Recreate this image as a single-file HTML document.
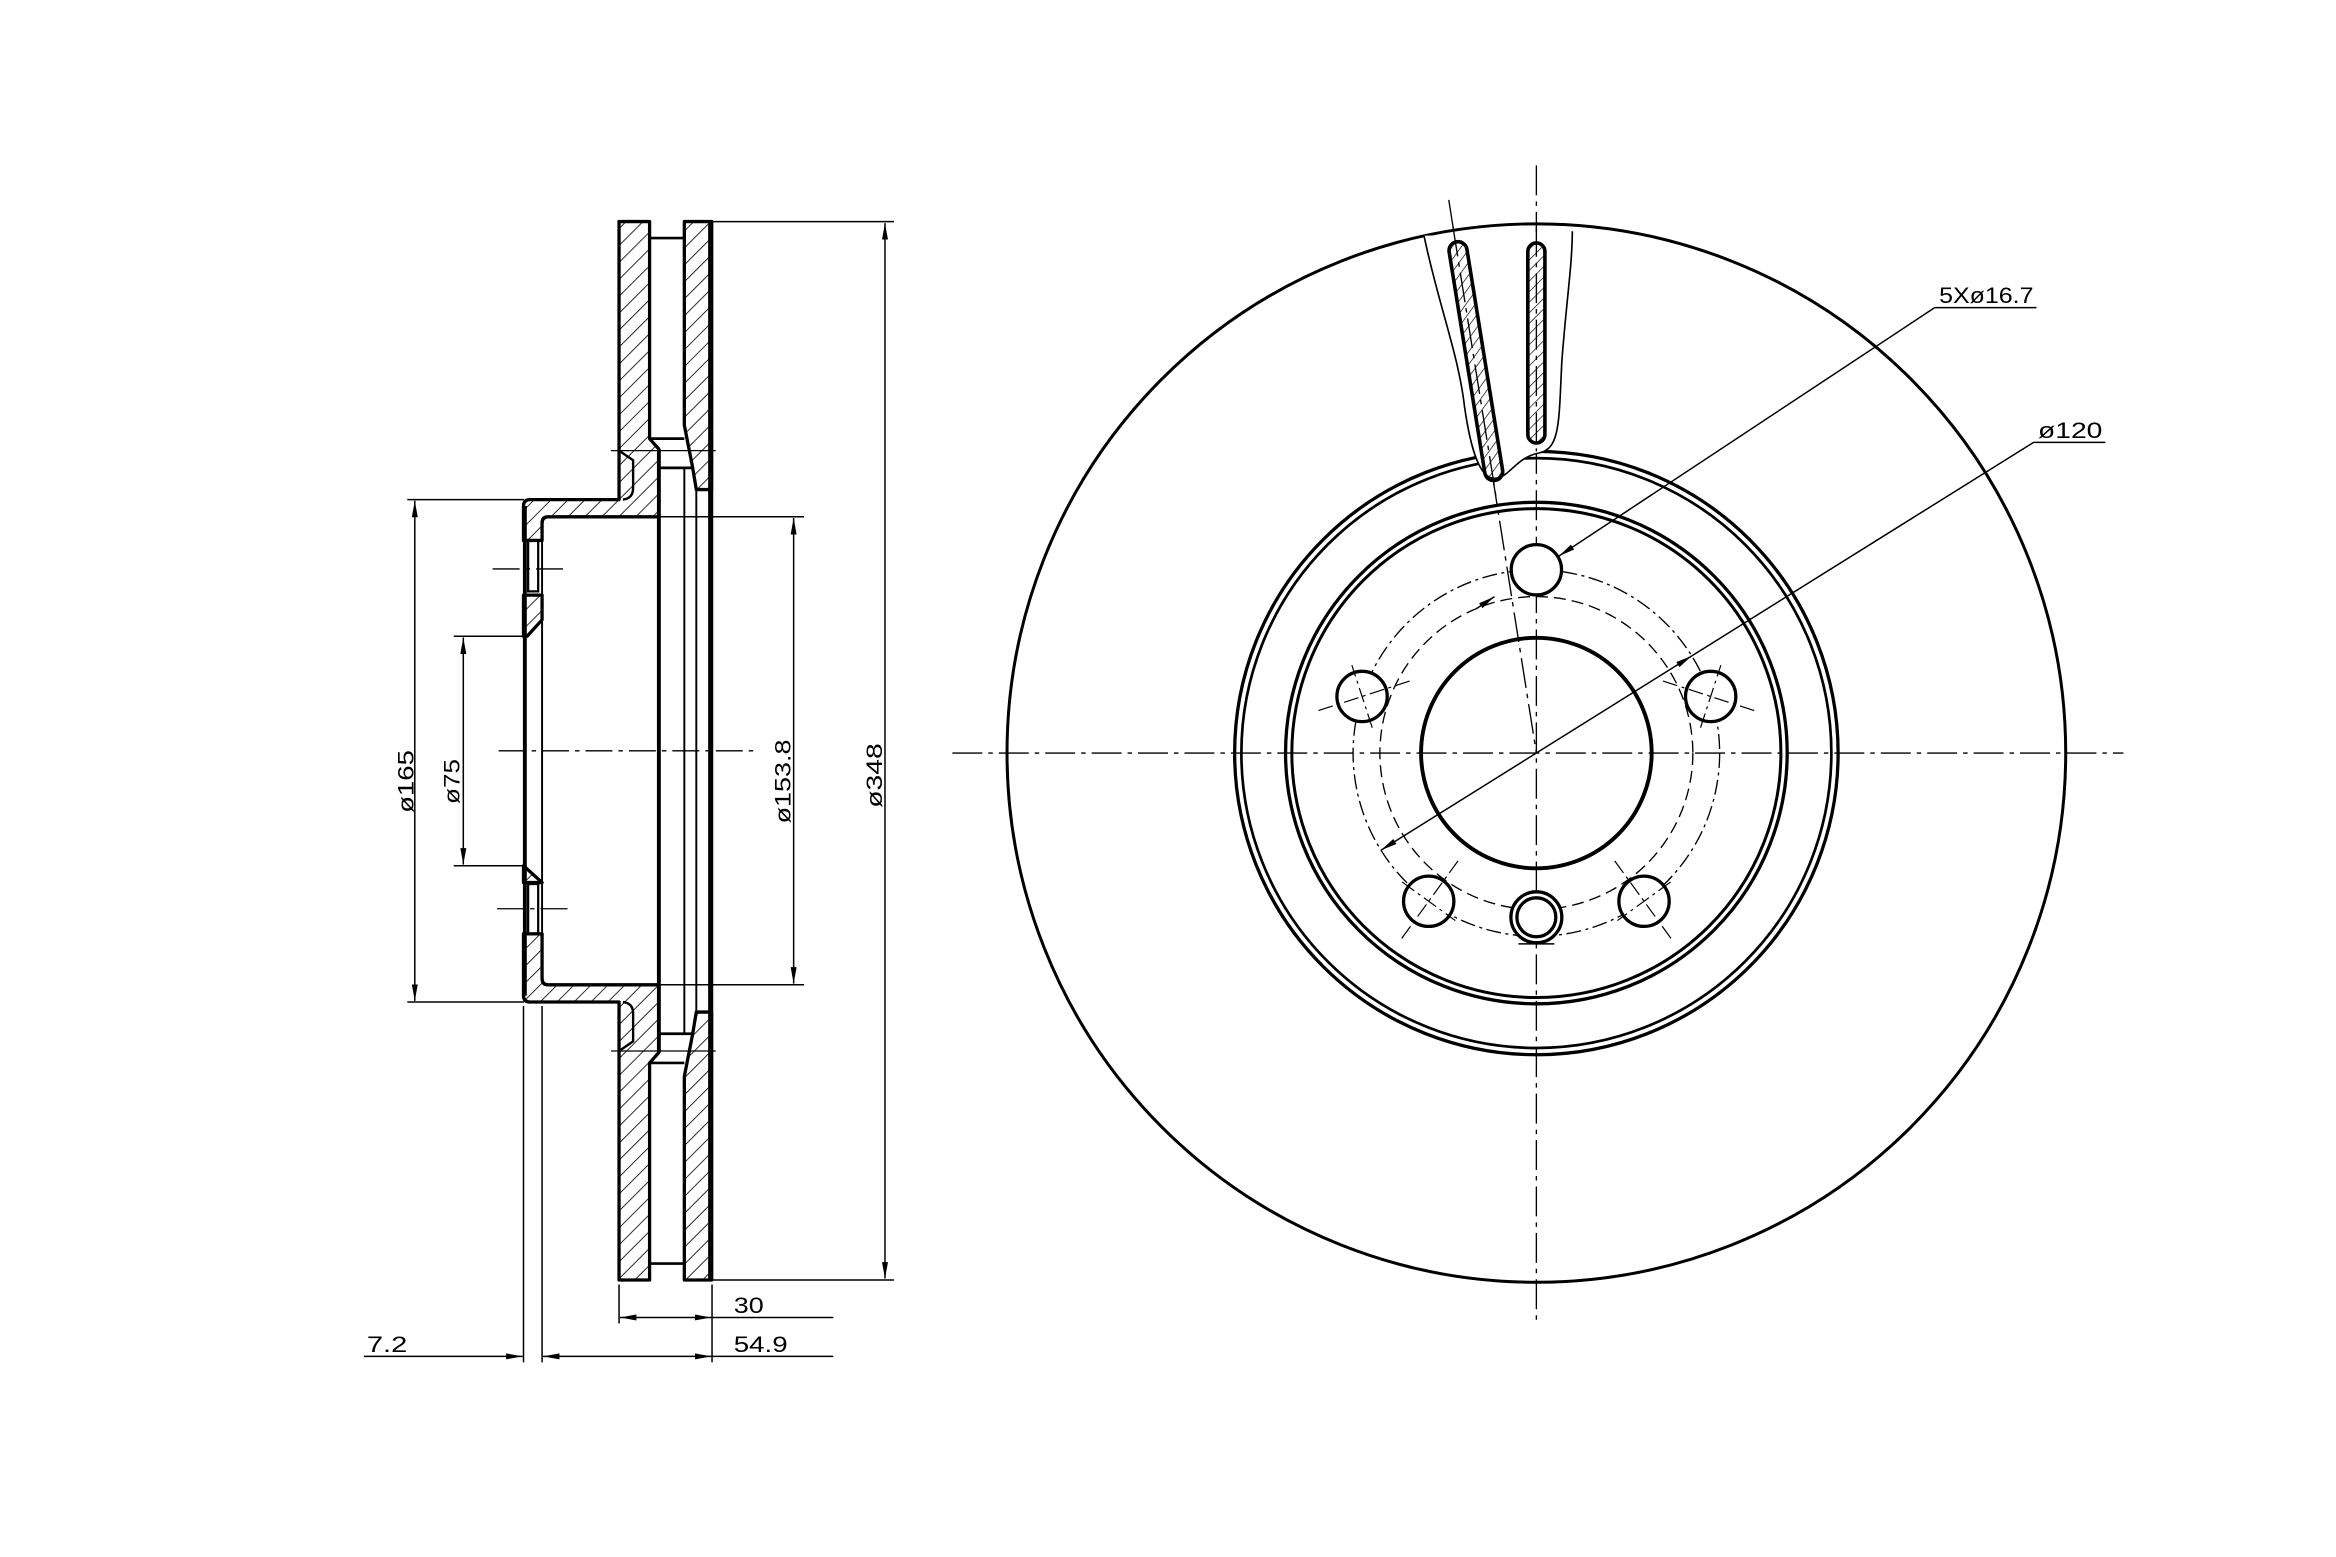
<!DOCTYPE html>
<html><head><meta charset="utf-8"><style>
html,body{margin:0;padding:0;background:#fff;}
svg{display:block;}
text{font-family:"Liberation Sans",sans-serif;fill:#000;}
</style></head><body>
<svg width="2336" height="1557" viewBox="0 0 1560 1040" preserveAspectRatio="none" xmlns="http://www.w3.org/2000/svg">
<defs>
<marker id="a" viewBox="0 0 11 4" refX="11" refY="2" markerWidth="11" markerHeight="4" markerUnits="userSpaceOnUse" orient="auto-start-reverse"><path d="M0,0 L11,2 L0,4 z" fill="#000"/></marker>
<pattern id="h" width="8" height="8" patternUnits="userSpaceOnUse" patternTransform="rotate(45)"><line x1="0" y1="0" x2="0" y2="8" stroke="#000" stroke-width="1.1"/></pattern>
<pattern id="hs" width="5" height="5" patternUnits="userSpaceOnUse" patternTransform="rotate(45)"><line x1="0" y1="0" x2="0" y2="5" stroke="#000" stroke-width="0.9"/></pattern>
</defs>
<rect width="1560" height="1040" fill="#fff"/>

<!-- ===== SECTION VIEW ===== -->
<g stroke="#000" fill="url(#h)" stroke-width="2.2" stroke-linejoin="round">
<path d="M413.4,148 L433.8,148 L433.8,293 L440,300 L440,345.2 L366,345.2 Q362,345.2 362,349.5 L362,361 L349.6,361 L349.6,338 Q349.6,333.7 354,333.7 L413.4,333.7 Z"/>
<path d="M349.6,397.5 L362,397.5 L362,414 L352,425 L349.6,425 Z"/>
<path d="M457,148 L475.2,148 L475.2,327 L465,327 L462.5,312 L457,284 Z"/>
<path d="M413.4,855 L433.8,855 L433.8,710 L440,703 L440,657.8 L366,657.8 Q362,657.8 362,653.5 L362,623.8 L349.6,623.8 L349.6,665 Q349.6,669.3 354,669.3 L413.4,669.3 Z"/>
<path d="M349.6,578.3 L362,589.5 L349.6,589.5 Z"/>
<path d="M457,855 L475.2,855 L475.2,676 L465,676 L462.5,691 L457,719 Z"/>
</g>
<g stroke="#000" fill="none">
<line x1="440" y1="300" x2="440" y2="703" stroke-width="2.6"/>
<line x1="457" y1="312" x2="457" y2="691" stroke-width="1.3"/>
<line x1="465" y1="327" x2="465" y2="676" stroke-width="1.3"/>
<line x1="474.6" y1="148" x2="474.6" y2="855" stroke-width="3.4"/>
<line x1="350.5" y1="338" x2="350.5" y2="665" stroke-width="2.6"/>
<line x1="362" y1="349" x2="362" y2="654" stroke-width="1.3"/>
<line x1="433.8" y1="159" x2="457" y2="159" stroke-width="1.8"/>
<line x1="433.8" y1="844" x2="457" y2="844" stroke-width="1.8"/>
<line x1="433.8" y1="293" x2="457" y2="293" stroke-width="1.8"/>
<line x1="433.8" y1="710" x2="457" y2="710" stroke-width="1.8"/>
<line x1="440" y1="312.5" x2="462.5" y2="312.5" stroke-width="1.8"/>
<line x1="440" y1="690.5" x2="462.5" y2="690.5" stroke-width="1.8"/>
<path d="M413.4,301 L422.8,307.4 L422.8,326 Q422.8,333 416,333.7" stroke-width="1.6"/>
<path d="M413.4,702 L422.8,695.6 L422.8,677 Q422.8,670 416,669.3" stroke-width="1.6"/>
<line x1="408" y1="301" x2="478" y2="301" stroke-width="0.8"/>
<line x1="408" y1="702" x2="478" y2="702" stroke-width="0.8"/>
<rect x="352.7" y="361" width="6.7" height="34" stroke-width="1.5"/>
<rect x="352.7" y="590.5" width="6.7" height="33" stroke-width="1.5"/>
<g stroke-width="0.9" stroke-dasharray="18 4 3 4">
<line x1="333" y1="501.5" x2="505" y2="501.5"/>
<line x1="329" y1="380" x2="379" y2="380"/>
<line x1="332" y1="607" x2="383" y2="607"/>
</g>
<g stroke-width="1">
<line x1="475" y1="148" x2="597" y2="148"/>
<line x1="475" y1="855" x2="597" y2="855"/>
<line x1="591" y1="149" x2="591" y2="854" marker-start="url(#a)" marker-end="url(#a)"/>
<line x1="440" y1="345.2" x2="537" y2="345.2"/>
<line x1="440" y1="657.8" x2="537" y2="657.8"/>
<line x1="530" y1="346" x2="530" y2="657" marker-start="url(#a)" marker-end="url(#a)"/>
<line x1="272" y1="333.7" x2="350" y2="333.7"/>
<line x1="272" y1="669.3" x2="350" y2="669.3"/>
<line x1="277" y1="334.5" x2="277" y2="668.5" marker-start="url(#a)" marker-end="url(#a)"/>
<line x1="303" y1="425" x2="351" y2="425"/>
<line x1="303" y1="578.3" x2="351" y2="578.3"/>
<line x1="309.4" y1="425.8" x2="309.4" y2="577.5" marker-start="url(#a)" marker-end="url(#a)"/>
<line x1="413.4" y1="858" x2="413.4" y2="884"/>
<line x1="475.5" y1="858" x2="475.5" y2="910"/>
<line x1="349.6" y1="672" x2="349.6" y2="910"/>
<line x1="362" y1="672" x2="362" y2="910"/>
<line x1="414" y1="880" x2="475" y2="880" marker-start="url(#a)" marker-end="url(#a)"/>
<line x1="475" y1="880" x2="556.5" y2="880"/>
<line x1="362.6" y1="906" x2="475" y2="906" marker-start="url(#a)" marker-end="url(#a)"/>
<line x1="475" y1="906" x2="556.5" y2="906"/>
<line x1="243" y1="906" x2="349" y2="906" marker-end="url(#a)"/>
</g>
</g>
<g font-size="15">
<text x="490" y="877" textLength="20" lengthAdjust="spacingAndGlyphs">30</text>
<text x="490" y="903" textLength="36" lengthAdjust="spacingAndGlyphs">54.9</text>
<text x="245" y="903" textLength="27" lengthAdjust="spacingAndGlyphs">7.2</text>
<text transform="translate(589,518) rotate(-90)" text-anchor="middle" textLength="43" lengthAdjust="spacingAndGlyphs">ø348</text>
<text transform="translate(528,522) rotate(-90)" text-anchor="middle" textLength="56" lengthAdjust="spacingAndGlyphs">ø153.8</text>
<text transform="translate(276,522) rotate(-90)" text-anchor="middle" textLength="42" lengthAdjust="spacingAndGlyphs">ø165</text>
<text transform="translate(307,522) rotate(-90)" text-anchor="middle" textLength="30" lengthAdjust="spacingAndGlyphs">ø75</text>
</g>

<!-- ===== FRONT VIEW ===== -->
<g transform="translate(-2,1.5)">
<g stroke="#000" fill="none">
<g stroke-width="0.9" stroke-dasharray="20 4 3 4">
<line x1="638" y1="501.5" x2="1420" y2="501.5"/>
<line x1="1028" y1="109" x2="1028" y2="880"/>
<line x1="969.5" y1="132" x2="1028" y2="501.5"/>
</g>
<circle cx="1028" cy="501.5" r="353.5" stroke-width="2"/>
<circle cx="1028" cy="501.5" r="201.5" stroke-width="2.2"/>
<circle cx="1028" cy="501.5" r="197" stroke-width="1.8"/>
<circle cx="1028" cy="501.5" r="167.5" stroke-width="2.2"/>
<circle cx="1028" cy="501.5" r="163.3" stroke-width="2"/>
<circle cx="1028" cy="501.5" r="77" stroke-width="2.6"/>
<circle cx="1028" cy="501.5" r="122.4" stroke-width="0.9" stroke-dasharray="10 3 2 3"/>
<circle cx="1028" cy="501.5" r="104.5" stroke-width="0.9" stroke-dasharray="8 4"/>
<g stroke-width="2.2" fill="#fff">
<circle cx="1028" cy="379.1" r="16.8"/>
<circle cx="1144.4" cy="463.7" r="16.8"/>
<circle cx="911.6" cy="463.7" r="16.8"/>
<circle cx="956.1" cy="600.5" r="16.8"/>
<circle cx="1099.9" cy="600.5" r="16.8"/>
<circle cx="1028" cy="611.2" r="17"/>
<circle cx="1028" cy="611.2" r="13"/>
</g>
<line x1="1016" y1="629" x2="1040" y2="629" stroke-width="1"/>
<g stroke-width="0.8" stroke-dasharray="10 3 2 3">
<line x1="1112.6" y1="453.4" x2="1176.2" y2="474"/>
<line x1="1137.6" y1="484.6" x2="1151.2" y2="442.8"/>
<line x1="943.4" y1="453.4" x2="879.8" y2="474"/>
<line x1="918.4" y1="484.6" x2="904.8" y2="442.8"/>
<line x1="975.7" y1="573.5" x2="936.5" y2="627.5"/>
<line x1="938.3" y1="587.6" x2="973.9" y2="613.4"/>
<line x1="1080.3" y1="573.5" x2="1119.5" y2="627.5"/>
<line x1="1117.7" y1="587.6" x2="1082.1" y2="613.4"/>
</g>
<path d="M953,156 C962,200 976,235 980,270 C984,298 990,318 1000,318 C1010,318 1014,304 1030,301 C1044,298 1043,280 1045,240 C1048,200 1052,175 1052,153" stroke-width="1.1" fill="#fff"/>
<rect x="1022.3" y="160.8" width="11.4" height="133.6" rx="5.7" fill="url(#hs)" stroke-width="2.4"/>
<rect x="981.6" y="159" width="12" height="161.4" rx="6" fill="url(#hs)" stroke-width="2.4" transform="rotate(-9.17 987.6 239.7)"/>
<g stroke-width="0.9" stroke-dasharray="20 4 3 4">
<line x1="1028" y1="150" x2="1028" y2="300"/>
<line x1="972.3" y1="150" x2="1001" y2="330"/>
</g>
<g stroke-width="1">
<line x1="1294" y1="204" x2="1362" y2="204"/>
<line x1="1294" y1="204" x2="1043" y2="370" marker-end="url(#a)"/>
<line x1="988" y1="405" x2="1000" y2="397" marker-end="url(#a)"/>
<line x1="1360" y1="294" x2="1408" y2="294"/>
<line x1="1360" y1="294" x2="1131.8" y2="436.6"/>
<line x1="1028" y1="501.5" x2="1131.8" y2="436.6" marker-end="url(#a)"/>
<line x1="1028" y1="501.5" x2="924.2" y2="566.4" marker-end="url(#a)"/>
</g>
</g>
<g font-size="15">
<text x="1297" y="201" textLength="63" lengthAdjust="spacingAndGlyphs">5Xø16.7</text>
<text x="1363" y="291" textLength="43" lengthAdjust="spacingAndGlyphs">ø120</text>
</g>
</g>
</svg>
</body></html>
